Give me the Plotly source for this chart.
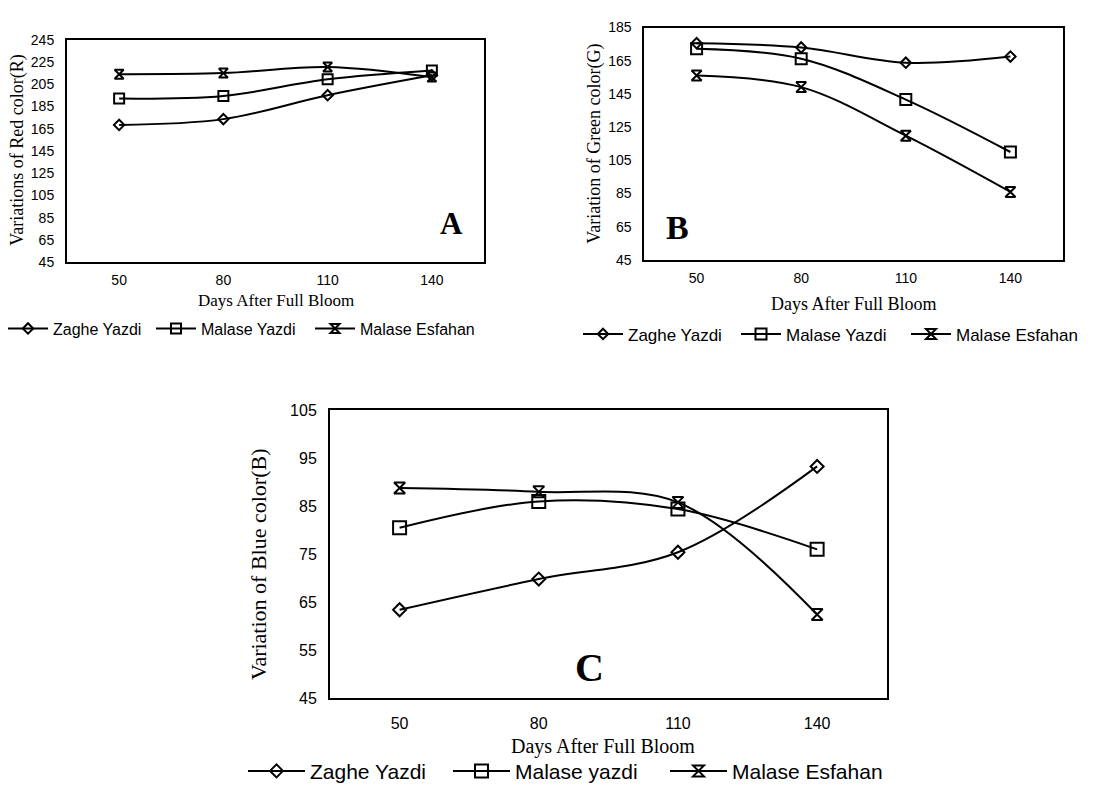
import plotly.graph_objects as go

W, H = 1113, 792

days = ["50", "80", "110", "140"]
series_names_ab = ["Zaghe Yazdi", "Malase Yazdi", "Malase Esfahan"]
series_names_c = ["Zaghe Yazdi", "Malase yazdi", "Malase Esfahan"]

red_zaghe = [168.4, 173.6, 195.1, 213.0]
red_malase_yazdi = [192.1, 194.5, 209.4, 217.3]
red_malase_esfahan = [214.0, 215.0, 220.5, 211.4]

green_zaghe = [175.6, 173.0, 163.8, 167.5]
green_malase_yazdi = [172.2, 166.2, 141.6, 110.0]
green_malase_esfahan = [156.1, 149.1, 119.8, 85.9]

blue_zaghe = [63.4, 69.8, 75.4, 93.3]
blue_malase_yazdi = [80.5, 86.0, 84.4, 76.0]
blue_malase_esfahan = [88.8, 88.0, 85.8, 62.4]

yticks_red = [45, 65, 85, 105, 125, 145, 165, 185, 205, 225, 245]
yticks_green = [45, 65, 85, 105, 125, 145, 165, 185]
yticks_blue = [45, 55, 65, 75, 85, 95, 105]

symbols = ["diamond-open", "square-open", "hourglass-open"]


def px_x(x):
    return x / W


def px_y(y):
    return 1 - y / H


panels = [
    dict(key="", data=[red_zaghe, red_malase_yazdi, red_malase_esfahan], names=series_names_ab,
         box=(67, 484, 32.5, 260), yr=[45, 245], yt=yticks_red,
         msz=[8, 10, 9], tickfont=14, xstand=4,
         leg_xs=[10, 158, 317], leg_y=328, legfont=16, itemw=40),
    dict(key="2", data=[green_zaghe, green_malase_yazdi, green_malase_esfahan], names=series_names_ab,
         box=(644.3, 1062.7, 20, 257.7), yr=[45, 185], yt=yticks_green,
         msz=[8, 11, 10], tickfont=14, xstand=4,
         leg_xs=[585, 743, 913], leg_y=334, legfont=17, itemw=40),
    dict(key="3", data=[blue_zaghe, blue_malase_yazdi, blue_malase_esfahan], names=series_names_c,
         box=(330, 886.7, 411.7, 706), yr=[45, 105], yt=yticks_blue,
         msz=[10, 13, 11], tickfont=16, xstand=10,
         leg_xs=[250, 455, 672], leg_y=781, legfont=21, itemw=57),
]

fig = go.Figure()
layout = dict(width=W, height=H, margin=dict(l=0, r=0, t=0, b=0),
              paper_bgcolor="white", plot_bgcolor="white", showlegend=True)

legend_counter = 0
for p in panels:
    k = p["key"]
    for vals, name, sym, ms, lx in zip(p["data"], p["names"], symbols, p["msz"], p["leg_xs"]):
        legend_counter += 1
        lname = "legend" if legend_counter == 1 else "legend%d" % legend_counter
        fig.add_trace(go.Scatter(
            x=days, y=vals, name=name, mode="lines+markers",
            xaxis="x" + k, yaxis="y" + k, legend=lname,
            line=dict(color="black", width=2, shape="spline", smoothing=1),
            marker=dict(symbol=sym, size=ms, color="black", line=dict(width=2, color="black")),
        ))
        layout[lname] = dict(
            orientation="h", x=px_x(lx - 7), y=px_y(p["leg_y"]), xanchor="left", yanchor="middle",
            font=dict(family="Liberation Sans", size=p["legfont"], color="black"),
            bgcolor="rgba(0,0,0,0)", itemwidth=p["itemw"])
    x0, x1, y0, y1 = p["box"]
    layout["xaxis" + k] = dict(
        domain=[px_x(x0), px_x(x1)], anchor="y" + k, type="category", range=[-0.5, 3.5],
        showline=True, mirror=True, linecolor="black", linewidth=2, showgrid=False,
        ticks="", tickfont=dict(family="Liberation Sans", size=p["tickfont"], color="black"),
        ticklabelstandoff=p["xstand"], zeroline=False)
    layout["yaxis" + k] = dict(
        domain=[px_y(y1), px_y(y0)], anchor="x" + k, range=p["yr"], tickvals=p["yt"],
        showline=True, mirror=True, linecolor="black", linewidth=2, showgrid=False,
        ticks="", tickfont=dict(family="Liberation Sans", size=p["tickfont"], color="black"),
        ticklabelstandoff=8, zeroline=False)

ann = []
# axis titles
for text, x, y, size in [("Days After Full Bloom", 276, 299, 17),
                         ("Days After Full Bloom", 854, 303, 18),
                         ("Days After Full Bloom", 602.5, 756, 20)]:
    ann.append(dict(text=text, x=px_x(x), y=px_y(y), xref="paper", yref="paper",
                    showarrow=False, xanchor="center", yanchor="middle",
                    font=dict(family="Liberation Serif", size=size, color="black")))
for text, x, y, size in [("Variations of Red color(R)", 18, 146, 18),
                         ("Variation of Green color(G)", 595, 139, 18),
                         ("Variation of Blue color(B)", 258, 569, 22)]:
    ann.append(dict(text=text, x=px_x(x), y=px_y(y), xref="paper", yref="paper",
                    showarrow=False, xanchor="center", yanchor="middle", textangle=-90,
                    font=dict(family="Liberation Serif", size=size, color="black")))
for text, x, y, size in [("A", 451.7, 220.3, 31), ("B", 677.3, 224.7, 34), ("C", 589.3, 675, 40)]:
    ann.append(dict(text="<b>" + text + "</b>", x=px_x(x), y=px_y(y), xref="paper", yref="paper",
                    showarrow=False, xanchor="center", yanchor="middle",
                    font=dict(family="Liberation Serif", size=size, color="black")))
layout["annotations"] = ann

fig.update_layout(**layout)
fig.write_html("out.html", config={"displayModeBar": False},
               post_script="document.body.style.margin='0';")
